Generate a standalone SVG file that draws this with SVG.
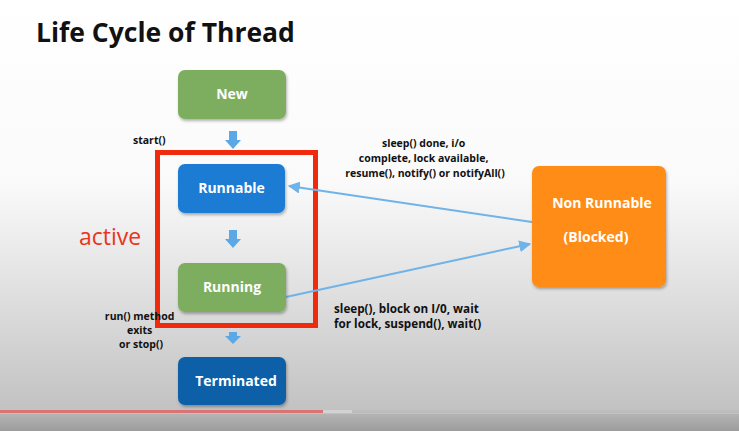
<svg xmlns="http://www.w3.org/2000/svg" width="739" height="431" viewBox="0 0 739 431">
  <defs>
    <linearGradient id="bg" x1="0" y1="0" x2="0" y2="1">
      <stop offset="0" stop-color="#ffffff"/>
      <stop offset="0.42" stop-color="#fafafa"/>
      <stop offset="0.62" stop-color="#e6e6e6"/>
      <stop offset="0.95" stop-color="#c2c2c2"/>
      <stop offset="1" stop-color="#bdbdbd"/>
    </linearGradient>
    <linearGradient id="bar" x1="0" y1="0" x2="0" y2="1">
      <stop offset="0" stop-color="#b4b4b4"/>
      <stop offset="1" stop-color="#9c9c9c"/>
    </linearGradient>
    <filter id="shadow" x="-10%" y="-10%" width="125%" height="130%">
      <feDropShadow dx="1" dy="2" stdDeviation="1.5" flood-color="#000" flood-opacity="0.3"/>
    </filter>
    <marker id="head" viewBox="0 0 10 10" refX="9" refY="5" markerWidth="6" markerHeight="6" markerUnits="strokeWidth" orient="auto">
      <path d="M0,0 L10,5 L0,10 z" fill="#6fb3e8"/>
    </marker>
  </defs>
  <style>
    .box { filter: url(#shadow); }
    .lbl { font-family: "Open Sans", "Liberation Sans", sans-serif; font-weight: bold; fill: #fff; font-size: 14px; text-anchor: middle; }
    .note { font-family: "Open Sans", "Liberation Sans", sans-serif; font-weight: bold; fill: #111; font-size: 10.5px; }
    .note.big { font-size: 11.7px; }
    .link { stroke: #6fb3e8; stroke-width: 2; fill: none; }
    .step { fill: #5aa8e6; }
  </style>

  <rect width="739" height="431" fill="url(#bg)"/>
  <rect y="414" width="739" height="17" fill="url(#bar)"/>
  <rect y="410" width="739" height="3" fill="#bdbdbd"/>
  <rect y="410" width="352" height="3" fill="#d2d2d2"/>
  <rect y="410" width="323" height="3" fill="#d97474"/>

  <text x="36" y="42" font-family="Open Sans, Liberation Sans, sans-serif" font-weight="bold" font-size="26.5" fill="#111">Life Cycle of Thread</text>

  <!-- active region -->
  <rect x="157.5" y="152.5" width="158" height="173" fill="none" stroke="#f02a0c" stroke-width="5"/>
  <text x="79" y="245" font-family="Open Sans, Liberation Sans, sans-serif" font-size="23" fill="#e8361a">active</text>

  <g id="connectors">
    <path class="step" d="M229,131 h8 v9 h4 l-8,9 l-8,-9 h4 z"/>
    <path class="step" d="M229,230 h8 v9 h4 l-8,9 l-8,-9 h4 z"/>
    <path class="step" d="M229,332 h8 v4 h4 l-8,8 l-8,-8 h4 z"/>
    <line class="link" x1="532" y1="222" x2="289" y2="186" marker-end="url(#head)"/>
    <line class="link" x1="286" y1="297" x2="530" y2="244" marker-end="url(#head)"/>
  </g>

  <g id="new">
    <rect class="box" x="178" y="70" width="108" height="49" rx="7" fill="#7dae60"/>
    <text class="lbl" x="232" y="99">New</text>
  </g>
  <g id="runnable">
    <rect class="box" x="178" y="164" width="107" height="49" rx="7" fill="#1a7bd3"/>
    <text class="lbl" x="231.5" y="193">Runnable</text>
  </g>
  <g id="running">
    <rect class="box" x="178" y="263" width="108" height="49" rx="7" fill="#7dae60"/>
    <text class="lbl" x="232" y="292">Running</text>
  </g>
  <g id="terminated">
    <rect class="box" x="178" y="357" width="108" height="48" rx="7" fill="#0b5fa8"/>
    <text class="lbl" x="236" y="386">Terminated</text>
  </g>
  <g id="non-runnable">
    <rect class="box" x="532" y="166" width="134" height="121" rx="7" fill="#ff8c17"/>
    <text class="lbl" x="602" y="208">Non  Runnable</text>
    <text class="lbl" x="596" y="242">(Blocked)</text>
  </g>

  <g id="labels">
    <text class="note" x="133" y="144">start()</text>
    <text class="note" text-anchor="middle">
      <tspan x="141" y="320">run() method</tspan>
      <tspan x="141" y="334">exits</tspan>
      <tspan x="141" y="348">or stop()</tspan>
    </text>
    <text class="note" text-anchor="middle">
      <tspan x="425" y="147">sleep() done, i/o</tspan>
      <tspan x="425" y="162">complete, lock available,</tspan>
      <tspan x="425" y="177">resume(), notify() or notifyAll()</tspan>
    </text>
    <text class="note big">
      <tspan x="334" y="313">sleep(), block on I/0, wait</tspan>
      <tspan x="334" y="328">for lock, suspend(), wait()</tspan>
    </text>
  </g>
</svg>
